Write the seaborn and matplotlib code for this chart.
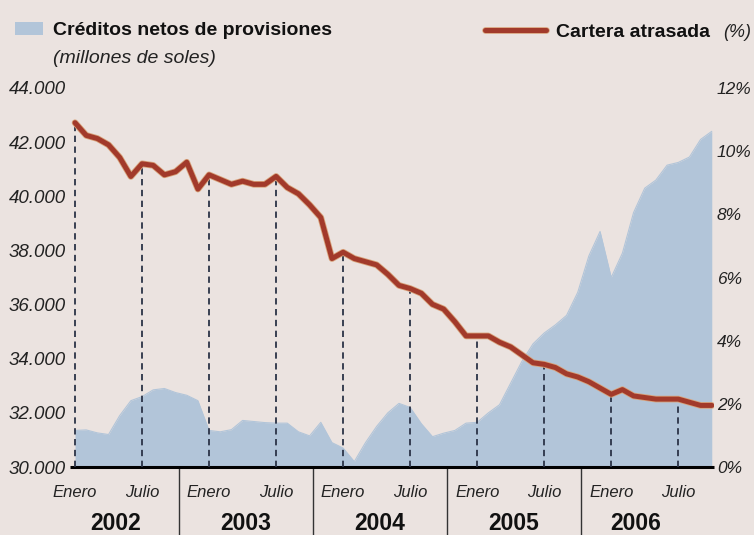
import numpy as np
import pandas as pd
import matplotlib
matplotlib.use("Agg")
import matplotlib.pyplot as plt
import matplotlib.patheffects as pe
from matplotlib.patches import Rectangle
from matplotlib.lines import Line2D
import seaborn as sns

# ---------------- data ----------------
years = ["2002", "2003", "2004", "2005", "2006"]
month_tick_labels = ["Enero", "Julio"] * 5
month_tick_idx = [0, 6, 12, 18, 24, 30, 36, 42, 48, 54]

# Créditos netos de provisiones (millones de soles), monthly Jan-2002 .. Oct-2006
creditos = [31350, 31370, 31260, 31200, 31900, 32450, 32600, 32850, 32900, 32750,
            32650, 32450, 31350, 31300, 31380, 31720, 31680, 31640, 31620, 31620,
            31300, 31150, 31650, 30900, 30700, 30200, 30900, 31500, 32000, 32350,
            32200, 31600, 31120, 31250, 31350, 31620, 31650, 32000, 32300, 33100,
            33900, 34550, 34950, 35250, 35600, 36450, 37800, 38700, 37000, 37900,
            39400, 40300, 40600, 41150, 41250, 41450, 42100, 42400]

# Cartera atrasada (%)
cartera = [10.9, 10.5, 10.4, 10.2, 9.8, 9.2, 9.6, 9.55, 9.25, 9.35,
           9.65, 8.8, 9.25, 9.1, 8.95, 9.05, 8.95, 8.95, 9.2, 8.85,
           8.65, 8.3, 7.9, 6.6, 6.8, 6.6, 6.5, 6.4, 6.1, 5.75,
           5.65, 5.5, 5.15, 5.0, 4.6, 4.15, 4.15, 4.15, 3.95, 3.8,
           3.55, 3.3, 3.25, 3.15, 2.95, 2.85, 2.7, 2.5, 2.3, 2.45,
           2.25, 2.2, 2.15, 2.15, 2.15, 2.05, 1.95, 1.95]

mes = list(range(len(creditos)))
df = pd.DataFrame({"mes": mes, "creditos": creditos, "cartera": cartera})

# ---------------- style ----------------
sns.set_theme(style="white")
FONT = "Liberation Sans"
plt.rcParams["font.family"] = [FONT, "DejaVu Sans"]

PAPER = "#ebe3e0"
BLUE = "#b2c5d9"
RED = "#a23a2b"
DASH = "#2b3347"

W, H = 754, 535
fig = plt.figure(figsize=(W / 100, H / 100), dpi=100, facecolor=PAPER)
ax = fig.add_axes([70 / W, 68 / H, 644 / W, 379 / H])
ax.set_facecolor(PAPER)
ax.set_xlim(-0.45, 57.2)
ax.set_ylim(30000, 44000)

# area
ax.fill_between(df["mes"], 30000, df["creditos"], color=BLUE, lw=0, zorder=1)
sns.lineplot(data=df, x="mes", y="creditos", ax=ax, color=BLUE, lw=0.8, zorder=1)

ax2 = ax.twinx()
ax2.set_ylim(0, 12)

# dashed verticals up to the line
for m in month_tick_idx:
    ax2.plot([m, m], [0, cartera[m]], color=DASH, lw=1.3, ls=(0, (3.5, 2.5)), zorder=2)

sns.lineplot(data=df, x="mes", y="cartera", ax=ax2, color=RED, lw=3.6, zorder=3,
             path_effects=[pe.Stroke(linewidth=4.8, foreground="#d8a27a"), pe.Normal()])

for a in (ax, ax2):
    for s in a.spines.values():
        s.set_visible(False)
    a.set_xlabel("")
    a.set_ylabel("")
    a.grid(False)

# x-axis line
ax.plot([-0.45, 57.2], [30000, 30000], color="black", lw=2.2, clip_on=False, zorder=5,
        solid_capstyle="butt")

# ticks
ax.set_yticks(range(30000, 44001, 2000))
ax.set_yticklabels([f"{v:,}".replace(",", ".") for v in range(30000, 44001, 2000)],
                   fontstyle="italic", fontsize=13.5, color="#222222")
ax.tick_params(axis="y", length=0, pad=3)
ax2.set_yticks(range(0, 13, 2))
ax2.set_yticklabels([f"{v}%" for v in range(0, 13, 2)], fontstyle="italic",
                    fontsize=12.5, color="#222222")
ax2.tick_params(axis="y", length=0, pad=2)

ax.set_xticks(month_tick_idx)
ax.set_xticklabels(month_tick_labels, fontstyle="italic", fontsize=12, color="#222222")
ax.tick_params(axis="x", length=0, pad=13)

# year separators and labels
xt = ax.get_xaxis_transform()
for sep in [9.3, 21.3, 33.3, 45.3]:
    ax.plot([sep, sep], [0, -0.18], transform=xt, color="#333333", lw=1.0, clip_on=False)
for yr, pos in zip(years, [3.6, 15.3, 27.3, 39.3, 50.2]):
    ax.text(pos, -0.148, yr, transform=xt, ha="center", va="center",
            fontsize=16.5, fontweight="bold", color="#111111")

# legend / titles
def fx(x):
    return x / W

def fy(y):
    return 1 - y / H

fig.add_artist(Rectangle((fx(15), fy(35)), 28 / W, 13 / H, transform=fig.transFigure,
                         facecolor=BLUE, edgecolor="none"))
fig.text(fx(53), fy(35), "Créditos netos de provisiones", fontsize=14, fontweight="bold",
         va="baseline", ha="left", color="#111111")
fig.text(fx(53), fy(63), "(millones de soles)", fontsize=14, fontstyle="italic",
         va="baseline", ha="left", color="#222222")

fig.add_artist(Line2D([fx(485), fx(546)], [fy(30), fy(30)], transform=fig.transFigure,
                      color=RED, lw=3.6, solid_capstyle="round",
                      path_effects=[pe.Stroke(linewidth=4.8, foreground="#d8a27a"), pe.Normal()]))
fig.text(fx(556), fy(37), "Cartera atrasada", fontsize=14, fontweight="bold",
         va="baseline", ha="left", color="#111111")
fig.text(fx(751), fy(37), "(%)", fontsize=13, fontstyle="italic",
         va="baseline", ha="right", color="#222222")

fig.savefig("out.png", dpi=100, facecolor=PAPER)
